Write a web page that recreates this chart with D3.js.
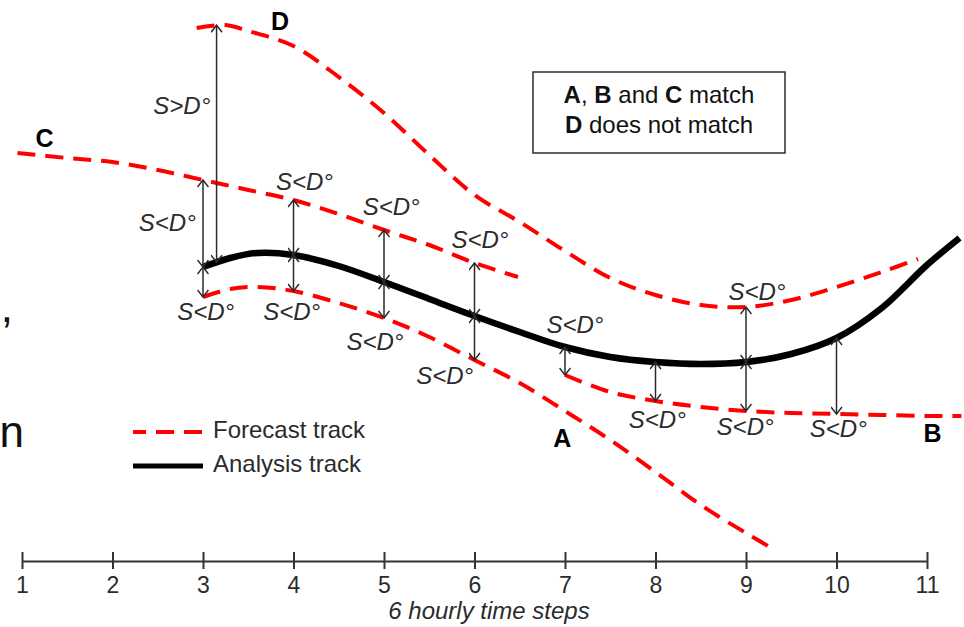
<!DOCTYPE html>
<html>
<head>
<meta charset="utf-8">
<script src="https://cdn.jsdelivr.net/npm/d3@7"></script>
<style>
  html, body { margin: 0; padding: 0; background: #fff; }
  svg { display: block; font-family: "Liberation Sans", Arial, sans-serif; }
</style>
</head>
<body>
<svg id="chart" width="964" height="627"></svg>
<script>
/*
 * Data (x in 6 hourly time steps, y in degrees)
 */
var timeSteps = d3.range(1, 12);

var analysisTrack = [[3, 14.7], [3.3, 15.15], [3.6, 15.4], [4, 15.3], [4.5, 14.75], [5, 13.95],
    [5.5, 13.1], [6, 12.25], [6.5, 11.45], [7, 10.7], [7.5, 10.2], [8, 9.95], [8.5, 9.85],
    [9, 9.95], [9.5, 10.35], [10, 11.15], [10.5, 12.65], [11, 14.8], [11.36, 16.15]];

var trackA = [[3, 13.2], [3.3, 13.6], [3.6, 13.7], [4, 13.5], [4.5, 12.9], [5, 12.15], [5.5, 11.2],
    [6, 10.05], [6.5, 8.9], [7, 7.5], [7.5, 6.05], [8, 4.45], [8.5, 2.8], [9, 1.4], [9.3, 0.6]];

var trackB = [[7, 9.3], [7.5, 8.45], [8, 8.0], [8.5, 7.7], [9, 7.5], [9.5, 7.4], [10, 7.35],
    [10.5, 7.3], [11, 7.25], [11.38, 7.25]];

var trackC = [[0.95, 20.4], [1.5, 20.15], [2, 19.95], [2.5, 19.55], [3, 19.05], [3.5, 18.55],
    [4, 18.05], [4.5, 17.35], [5, 16.55], [5.5, 15.8], [6, 14.9], [6.48, 14.2]];

var trackD = [[2.93, 26.65], [3.25, 26.8], [3.5, 26.5], [4, 25.75], [4.5, 24.2], [5, 22.4],
    [5.5, 20.3], [6, 18.3], [6.5, 16.95], [7, 15.5], [7.5, 14.15], [8, 13.3], [8.5, 12.8],
    [9, 12.7], [9.5, 13.05], [10, 13.7], [10.5, 14.45], [10.9, 15.1]];

// where each forecast track is compared with the analysis
var comparisons = [
    {step: 3, track: "C"}, {step: 3, track: "A"}, {step: 3.15, track: "D"},
    {step: 4, track: "C"}, {step: 4, track: "A"},
    {step: 5, track: "C"}, {step: 5, track: "A"},
    {step: 6, track: "C"}, {step: 6, track: "A"},
    {step: 7, track: "B"}, {step: 8, track: "B"},
    {step: 9, track: "D"}, {step: 9, track: "B"},
    {step: 10, track: "B"}
];

// annotation text, placed in data units
var distLabels = [
    {text: "S<D°", step: 2.92, val: 16.5, anchor: "end"},
    {text: "S>D°", step: 3.08, val: 22.35, anchor: "end"},
    {text: "S<D°", step: 4.12, val: 18.55},
    {text: "S<D°", step: 5.08, val: 17.3},
    {text: "S<D°", step: 6.06, val: 15.65},
    {text: "S<D°", step: 3.03, val: 12.05},
    {text: "S<D°", step: 3.98, val: 12.05},
    {text: "S<D°", step: 4.9, val: 10.55},
    {text: "S<D°", step: 5.67, val: 8.85},
    {text: "S<D°", step: 7.11, val: 11.4},
    {text: "S<D°", step: 8.02, val: 6.65},
    {text: "S<D°", step: 8.99, val: 6.3},
    {text: "S<D°", step: 10.02, val: 6.2},
    {text: "S<D°", step: 9.12, val: 13.05}
];

var trackLetters = [
    {name: "A", step: 6.97, val: 5.7},
    {name: "B", step: 11.06, val: 5.95},
    {name: "C", step: 1.25, val: 20.7},
    {name: "D", step: 3.85, val: 26.55}
];

/*
 * Scales
 */
var svg = d3.select("#chart");
var x = d3.scaleLinear().domain([1, 11]).range([22, 927]);
var y = d3.scaleLinear().domain([0, 27]).range([561, 21]);

var line = d3.line()
    .x(function(d) { return x(d[0]); })
    .y(function(d) { return y(d[1]); })
    .curve(d3.curveCatmullRom);

var red = "#ff0000";
var ink = "#2b2b2b";

// arrow head
svg.append("defs").append("marker")
    .attr("id", "head")
    .attr("viewBox", "-8 -6 10 12")
    .attr("refX", 0).attr("refY", 0)
    .attr("markerWidth", 10).attr("markerHeight", 12)
    .attr("markerUnits", "userSpaceOnUse")
    .attr("orient", "auto-start-reverse")
    .append("path")
    .attr("d", "M-7,-5.5L0,0L-7,5.5")
    .attr("fill", "none")
    .attr("stroke", ink)
    .attr("stroke-width", 1.5);

/*
 * Tracks
 */
var paths = {};
[["A", trackA], ["B", trackB], ["C", trackC], ["D", trackD]].forEach(function(t) {
    paths[t[0]] = svg.append("path")
        .datum(t[1])
        .attr("d", line)
        .attr("fill", "none")
        .attr("stroke", red)
        .attr("stroke-width", 4)
        .attr("stroke-dasharray", "18,10")
        .node();
});

paths.analysis = svg.append("path")
    .datum(analysisTrack)
    .attr("d", line)
    .attr("fill", "none")
    .attr("stroke", "#000")
    .attr("stroke-width", 6.5)
    .node();

// y pixel of a path at a given pixel x (tracks are monotonic in x)
function yOnPath(node, px) {
    var lo = 0, hi = node.getTotalLength();
    for (var i = 0; i < 40; i++) {
        var mid = (lo + hi) / 2;
        if (node.getPointAtLength(mid).x < px) { lo = mid; } else { hi = mid; }
    }
    return node.getPointAtLength((lo + hi) / 2).y;
}

/*
 * Distance arrows
 */
svg.append("g").selectAll("line")
    .data(comparisons)
    .enter()
    .append("line")
    .attr("x1", function(d) { return x(d.step); })
    .attr("x2", function(d) { return x(d.step); })
    .attr("y1", function(d) { return yOnPath(paths.analysis, x(d.step)); })
    .attr("y2", function(d) { return yOnPath(paths[d.track], x(d.step)); })
    .attr("stroke", ink)
    .attr("stroke-width", 1.5)
    .attr("marker-start", "url(#head)")
    .attr("marker-end", "url(#head)");

svg.append("g").selectAll("text")
    .data(distLabels)
    .enter()
    .append("text")
    .attr("x", function(d) { return x(d.step); })
    .attr("y", function(d) { return y(d.val); })
    .attr("text-anchor", function(d) { return d.anchor || "middle"; })
    .attr("font-size", 24)
    .attr("font-style", "italic")
    .attr("fill", ink)
    .text(function(d) { return d.text; });

svg.append("g").selectAll("text")
    .data(trackLetters)
    .enter()
    .append("text")
    .attr("x", function(d) { return x(d.step); })
    .attr("y", function(d) { return y(d.val); })
    .attr("text-anchor", "middle")
    .attr("font-size", 25)
    .attr("font-weight", "bold")
    .attr("fill", "#000")
    .text(function(d) { return d.name; });

/*
 * Axis
 */
var axis = svg.append("g")
    .attr("transform", "translate(0," + y(0) + ")")
    .call(d3.axisBottom(x).tickValues(timeSteps).tickSize(8).tickSizeOuter(0));

axis.select(".domain").attr("stroke", "#333").attr("stroke-width", 2);
axis.selectAll(".tick line").attr("y1", -9).attr("y2", 8).attr("stroke", "#333").attr("stroke-width", 2);
axis.selectAll(".tick text")
    .attr("y", 32).attr("dy", null)
    .attr("font-size", 23)
    .attr("font-family", "Liberation Sans, Arial, sans-serif")
    .attr("fill", ink);

svg.append("text")
    .attr("x", x(6.16))
    .attr("y", y(0) + 58)
    .attr("text-anchor", "middle")
    .attr("font-size", 24)
    .attr("font-style", "italic")
    .attr("fill", ink)
    .text("6 hourly time steps");

/*
 * Legend: line styles
 */
var legend = svg.append("g").attr("transform", "translate(133,432)");
legend.append("line").attr("x1", 0).attr("x2", 70).attr("y1", 0).attr("y2", 0)
    .attr("stroke", red).attr("stroke-width", 4).attr("stroke-dasharray", "13,10,18,10,18");
legend.append("line").attr("x1", 0).attr("x2", 70).attr("y1", 34).attr("y2", 34)
    .attr("stroke", "#000").attr("stroke-width", 5);
legend.append("text").attr("x", 80).attr("y", 6).attr("font-size", 24).attr("fill", ink)
    .text("Forecast track");
legend.append("text").attr("x", 80).attr("y", 40).attr("font-size", 24).attr("fill", ink)
    .text("Analysis track");

/*
 * Legend: match box
 */
var box = svg.append("g").attr("transform", "translate(533,72)");
box.append("rect").attr("width", 252).attr("height", 81)
    .attr("fill", "#fff").attr("stroke", ink).attr("stroke-width", 1.5);

var line1 = box.append("text").attr("x", 126).attr("y", 31).attr("text-anchor", "middle")
    .attr("font-size", 24).attr("fill", "#111");
line1.append("tspan").attr("font-weight", "bold").text("A");
line1.append("tspan").text(", ");
line1.append("tspan").attr("font-weight", "bold").text("B");
line1.append("tspan").text(" and ");
line1.append("tspan").attr("font-weight", "bold").text("C");
line1.append("tspan").text(" match");

var line2 = box.append("text").attr("x", 126).attr("y", 61).attr("text-anchor", "middle")
    .attr("font-size", 24).attr("fill", "#111");
line2.append("tspan").attr("font-weight", "bold").text("D");
line2.append("tspan").text(" does not match");

// text cut off at the left edge of the figure
svg.append("text").attr("x", 13).attr("y", 322).attr("text-anchor", "end")
    .attr("font-size", 44).attr("fill", "#111").text(",");
svg.append("text").attr("x", 24).attr("y", 447).attr("text-anchor", "end")
    .attr("font-size", 44).attr("fill", "#111").text("n");
</script>
</body>
</html>
